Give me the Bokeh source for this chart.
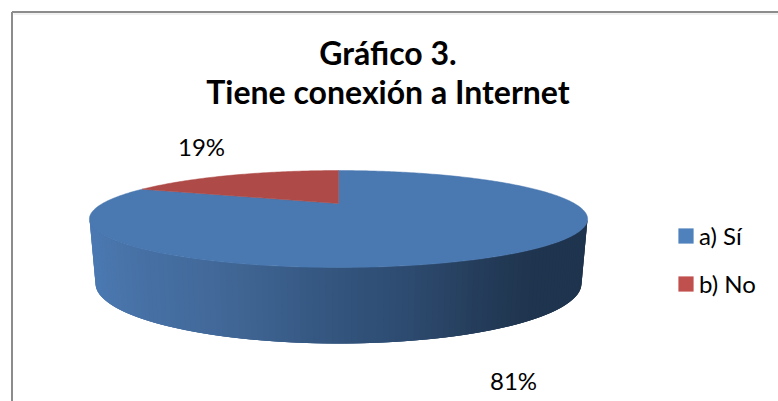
import math
from bokeh.core.properties import value
from bokeh.embed import file_html
from bokeh.models import ColumnDataSource, Legend, LegendItem, Range1d
from bokeh.plotting import figure
from bokeh.resources import INLINE

categories = ["a) Sí", "b) No"]
values = [81, 19]
title_lines = ["Gráfico 3.", "Tiene conexión a Internet"]

W, H = 778, 401

FONT = "Lato"
legend_colors = ["#4f81bd", "#c0504d"]
top_colors = ["#4a78b0", "#ae4a47"]
side_stops = [(95, (75, 121, 178)), (130, (72, 115, 168)), (250, (63, 100, 146)),
              (333, (51, 85, 126)), (400, (46, 76, 114)), (470, (37, 62, 92)),
              (530, (31, 52, 78)), (581, (31, 52, 78))]

p = figure(width=W, height=H, output_backend="svg", toolbar_location=None,
           x_axis_type=None, y_axis_type=None, min_border=0,
           x_range=Range1d(0, W), y_range=Range1d(H, 0),
           outline_line_color=None, background_fill_color="white", border_fill_color="white")

# chart frame
p.line([11.5, 11.5], [H, 11.5], line_color="#8c8c8c", line_width=2)
p.line([11.5, W], [11.5, 11.5], line_color="#8c8c8c", line_width=2)
p.line([13, W], [13.5, 13.5], line_color="#e2e2e2", line_width=1)

# perspective of the pie's disc
CX, APEX_Y = 338.0, 203.0
Q, A, C = 0.32, 43.5, 236.0


def project(theta):
    """Angle from 12 o'clock, counter-clockwise, to screen position on the rim."""
    u, v = -math.sin(theta), math.cos(theta)
    w = 1 + Q * v
    return CX + C * u / w, APEX_Y - A * v / w


def side_color(x):
    for (x0, c0), (x1, c1) in zip(side_stops, side_stops[1:]):
        if x <= x1:
            t = max(0.0, (x - x0) / (x1 - x0))
            return "#%02x%02x%02x" % tuple(round(a + (b - a) * t) for a, b in zip(c0, c1))
    return "#%02x%02x%02x" % side_stops[-1][1]


# side wall, in narrow overlapping strips that carry the gradient
N = 120
TOP_A, TOP_B, TOP_Y = 249.0, 48.5, 218.5
BASE_A, BASE_B, BASE_Y = 243.0, 60.0, 283.0
xs, ys, cols = [], [], []
for i in range(N):
    f0, f1 = math.pi * i / N, math.pi * min(i + 3, N) / N
    mid = math.pi * (i + 0.5) / N
    quad = [(CX - TOP_A * math.cos(f0), TOP_Y + TOP_B * math.sin(f0)),
            (CX - TOP_A * math.cos(f1), TOP_Y + TOP_B * math.sin(f1)),
            (CX - BASE_A * math.cos(f1), BASE_Y + BASE_B * math.sin(f1)),
            (CX - BASE_A * math.cos(f0), BASE_Y + BASE_B * math.sin(f0))]
    xs.append([q[0] for q in quad])
    ys.append([q[1] for q in quad])
    cols.append(side_color(CX - BASE_A * math.cos(mid)))
p.patches(xs="xs", ys="ys", fill_color="cols", line_color=None,
          source=ColumnDataSource(dict(xs=xs, ys=ys, cols=cols)))

# top faces: the first slice runs clockwise from 12 o'clock, the last ends there
total = sum(values)
slice_xs, slice_ys = [], []
start = 0.0
for v in values:
    end = start + v / total * 2 * math.pi
    steps = max(8, int(v * 4))
    pts = [project(-(start + (end - start) * k / steps)) for k in range(steps + 1)]
    slice_xs.append([CX] + [q[0] for q in pts])
    slice_ys.append([APEX_Y] + [q[1] for q in pts])
    start = end
p.patches(xs="xs", ys="ys", fill_color="c", line_color="c", line_width=0.5,
          source=ColumnDataSource(dict(xs=slice_xs, ys=slice_ys, c=top_colors)))

# title
p.text(x=[387.5, 387.5], y=[52, 91], text=title_lines, text_font=value(FONT),
       text_font_style="bold", text_font_size="32px", text_color="#000000",
       text_align="center", text_baseline="middle")

# data labels
p.text(x=[513, 201], y=[380, 146], text=[f"{v}%" for v in values], text_font=value(FONT),
       text_font_size="24px", text_color="#000000", text_align="center", text_baseline="middle")

# legend
items = []
for name, col in zip(categories, legend_colors):
    r = p.quad(left=[float("nan")], right=[float("nan")], top=[float("nan")], bottom=[float("nan")],
               fill_color=col, line_color=None)
    items.append(LegendItem(label=name, renderers=[r]))
legend = Legend(items=items, location=(676, 103), orientation="vertical",
                background_fill_alpha=0, border_line_color=None, padding=0, margin=0,
                glyph_width=19, glyph_height=19, label_standoff=4, spacing=19,
                label_text_font=FONT, label_text_font_size="24px", label_text_color="#000000",
                label_height=19)
p.add_layout(legend)

open("out.html", "w").write(file_html(p, INLINE))
